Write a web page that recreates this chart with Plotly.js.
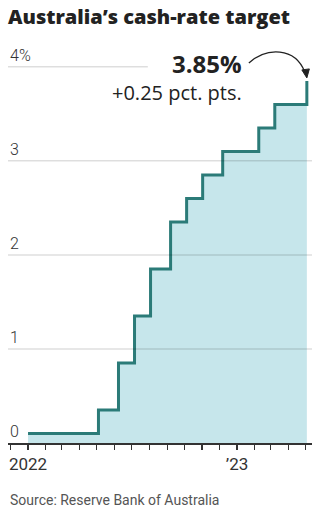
<!DOCTYPE html>
<html>
<head>
<meta charset="utf-8">
<script src="https://cdn.plot.ly/plotly-3.0.1.min.js"></script>
<style>
  html, body { margin: 0; padding: 0; background: #fff; }
  #chart { width: 321px; height: 508px; }
</style>
</head>
<body>
<div id="chart"></div>
<script>
// RBA cash-rate target, effective dates of each change
const dates = ['2022-01-01', '2022-05-04', '2022-06-08', '2022-07-06', '2022-08-03',
               '2022-09-07', '2022-10-05', '2022-11-02', '2022-12-07', '2023-02-08',
               '2023-03-08', '2023-05-03'];
const rates = [0.1, 0.35, 0.85, 1.35, 1.85, 2.35, 2.6, 2.85, 3.1, 3.35, 3.6, 3.85];

const yTickVals = [0, 1, 2, 3, 4];
const yTickText = ['0', '1', '2', '3', '4%'];
const xTickVals = ['2022-01-01', '2023-01-01'];
const xTickText = ['2022', '\u201923'];

const FONT = 'Roboto, "Noto Sans", sans-serif';
const WIDE = '"Open Sans", Roboto, sans-serif';
const LINE = '#2b7b78';
const FILL = '#c6e6eb';

const lastX = dates[dates.length - 1];
const lastY = rates[rates.length - 1];
const change = lastY - rates[rates.length - 2];

// horizontal guides; the top one stops short of the callout
const grid = yTickVals.filter(v => v > 0).map(v => ({
  type: 'line', xref: 'paper', yref: 'y', layer: 'above',
  x0: 0, x1: v === 4 ? 0.46 : 1, y0: v, y1: v,
  line: { color: 'rgba(0,0,0,0.13)', width: 1.5 }
}));

// curved pointer from the callout down to the latest step
const pointer = [
  {
    type: 'path', xref: 'x', yref: 'y', xsizemode: 'pixel', ysizemode: 'pixel',
    xanchor: lastX, yanchor: lastY,
    path: 'M -58,18 C -40,34 -12,34 -2,9',
    line: { color: '#222', width: 1.3 }
  },
  {
    type: 'path', xref: 'x', yref: 'y', xsizemode: 'pixel', ysizemode: 'pixel',
    xanchor: lastX, yanchor: lastY,
    path: 'M -5,11 L 0,3 L 2.5,12 Z',
    fillcolor: '#222', line: { color: '#222', width: 1 }
  }
];

// value labels sitting just above each guide, flush left
const yLabels = yTickVals.map((v, i) => ({
  xref: 'paper', yref: 'y', x: 0, y: v,
  xanchor: 'left', yanchor: 'bottom', yshift: 0,
  text: yTickText[i], showarrow: false,
  font: { family: FONT, size: 16, weight: 300, color: '#333' }
}));

const trace = {
  type: 'scatter', mode: 'lines',
  x: dates, y: rates,
  line: { shape: 'hv', color: LINE, width: 3 },
  fill: 'tozeroy', fillcolor: FILL,
  hoverinfo: 'skip'
};

const layout = {
  width: 321, height: 508,
  margin: { l: 8, r: 9, t: 48, b: 65 },
  paper_bgcolor: '#fff', plot_bgcolor: '#fff',
  showlegend: false,
  font: { family: FONT, color: '#333' },
  title: {
    text: 'Australia\u2019s cash-rate target',
    font: { family: WIDE, size: 20, weight: 800, color: '#222' },
    xref: 'container', yref: 'container',
    x: 8 / 321, xanchor: 'left', y: 1 - 17 / 508, yanchor: 'middle'
  },
  xaxis: {
    type: 'date',
    range: ['2021-11-27', '2023-05-12'],
    tickvals: xTickVals, ticktext: xTickText,
    ticks: 'outside', ticklen: 5, tickwidth: 1.3, tickcolor: '#333',
    minor: { dtick: 'M1', tick0: '2022-01-01', ticks: 'outside', ticklen: 5,
             tickwidth: 1.3, tickcolor: '#333', showgrid: false },
    showline: true, linecolor: '#333', linewidth: 1.5,
    showgrid: false, zeroline: false,
    tickfont: { family: FONT, size: 17, color: '#333' },
    fixedrange: true
  },
  yaxis: {
    range: [0, 4.2],
    showticklabels: false,
    ticks: '', showgrid: false, zeroline: false, showline: false,
    fixedrange: true
  },
  shapes: grid.concat(pointer),
  annotations: yLabels.concat([
    {
      xref: 'x', yref: 'y', x: lastX, y: lastY,
      xanchor: 'right', yanchor: 'middle', xshift: -63, yshift: 17,
      text: lastY.toFixed(2) + '%', showarrow: false,
      font: { family: WIDE, size: 24, weight: 700, color: '#222' }
    },
    {
      xref: 'x', yref: 'y', x: lastX, y: lastY,
      xanchor: 'right', yanchor: 'middle', xshift: -63, yshift: -12,
      text: '+' + change.toFixed(2) + ' pct. pts.', showarrow: false,
      font: { family: WIDE, size: 20, color: '#222' }
    },
    {
      xref: 'paper', yref: 'paper', x: 0, y: 0,
      xanchor: 'left', yanchor: 'middle', yshift: -57,
      text: 'Source: Reserve Bank of Australia', showarrow: false,
      font: { family: FONT, size: 14, color: '#555' }
    }
  ])
};

Plotly.newPlot('chart', [trace], layout, { displayModeBar: false, staticPlot: true });
</script>
</body>
</html>
